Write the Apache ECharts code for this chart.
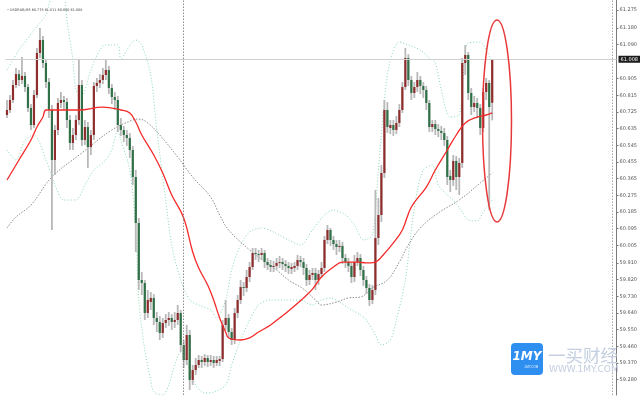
<!DOCTYPE html>
<html>
<head>
<meta charset="utf-8">
<script src="https://cdn.jsdelivr.net/npm/echarts@6/dist/echarts.min.js"></script>
<style>html,body{margin:0;padding:0;background:#fff}#c{width:640px;height:400px}</style>
</head>
<body>
<div id="c"></div>
<script>
const symbolTitle = "\u2022 USDRUB,M5 60.775 61.011 60.680 61.008";
const lastPrice = 61.008;
const yTicks = [61.275,61.180,61.090,60.905,60.815,60.725,60.635,60.545,60.455,60.365,60.275,60.185,60.095,60.005,59.910,59.820,59.730,59.640,59.550,59.460,59.370,59.280];
const slotCount = 204;
const categories = Array.from({length: slotCount}, (_, i) => String(i));

const opens = [60.709,60.736,60.790,60.871,60.930,60.898,60.920,60.860,60.747,60.655,60.817,61.044,61.114,60.990,60.887,60.736,60.466,60.628,60.774,60.790,60.779,60.682,60.558,60.601,60.682,60.871,60.574,60.644,60.536,60.601,60.866,60.882,60.898,60.925,60.952,60.855,60.806,60.790,60.655,60.628,60.601,60.585,60.520,60.374,60.126,59.818,59.802,59.640,59.699,59.721,59.613,59.591,59.532,59.586,59.602,59.613,59.591,59.602,59.640,59.467,59.386,59.521,59.278,59.332,59.359,59.386,59.375,59.397,59.375,59.386,59.370,59.381,59.391,59.575,59.613,59.537,59.494,59.640,59.710,59.780,59.775,59.834,59.888,59.964,59.958,59.953,59.964,59.915,59.899,59.888,59.894,59.910,59.915,59.904,59.894,59.877,59.883,59.894,59.926,59.915,59.883,59.818,59.845,59.856,59.818,59.850,59.883,60.034,60.088,60.034,60.012,59.996,60.002,59.937,59.915,59.894,59.834,59.915,59.937,59.872,59.818,59.775,59.710,59.764,60.045,60.169,60.396,60.736,60.639,60.655,60.628,60.666,60.736,60.860,61.017,60.898,60.828,60.860,60.898,60.866,60.844,60.774,60.644,60.660,60.633,60.623,60.612,60.574,60.380,60.358,60.461,60.374,60.450,60.990,61.033,60.828,60.752,60.774,60.747,60.639,60.833,60.882,60.775];
const closes = [60.736,60.790,60.871,60.930,60.898,60.920,60.860,60.747,60.655,60.817,61.044,61.114,60.990,60.887,60.736,60.466,60.628,60.774,60.790,60.779,60.682,60.558,60.601,60.682,60.871,60.574,60.644,60.536,60.601,60.866,60.882,60.898,60.925,60.952,60.855,60.806,60.790,60.655,60.628,60.601,60.585,60.520,60.374,60.126,59.818,59.802,59.640,59.710,59.721,59.613,59.591,59.532,59.586,59.602,59.613,59.591,59.602,59.640,59.467,59.386,59.521,59.278,59.332,59.359,59.386,59.375,59.397,59.375,59.386,59.370,59.386,59.391,59.575,59.613,59.537,59.494,59.640,59.710,59.780,59.775,59.834,59.888,59.964,59.958,59.953,59.964,59.915,59.899,59.888,59.894,59.910,59.915,59.904,59.894,59.883,59.888,59.894,59.926,59.915,59.883,59.818,59.845,59.856,59.818,59.850,59.883,60.034,60.088,60.034,60.012,59.996,60.002,59.937,59.915,59.894,59.834,59.915,59.937,59.872,59.818,59.775,59.710,59.764,60.045,60.169,60.396,60.736,60.644,60.655,60.628,60.666,60.736,60.860,61.017,60.898,60.828,60.860,60.898,60.866,60.844,60.774,60.644,60.660,60.633,60.623,60.612,60.574,60.374,60.358,60.461,60.374,60.450,60.990,61.033,60.828,60.752,60.774,60.747,60.639,60.833,60.882,60.752,61.008];
const lows = [60.693,60.720,60.774,60.855,60.866,60.876,60.833,60.725,60.628,60.639,60.801,61.017,60.963,60.855,60.693,60.088,60.385,60.601,60.747,60.736,60.639,60.520,60.520,60.574,60.655,60.542,60.547,60.423,60.493,60.574,60.833,60.855,60.876,60.898,60.822,60.768,60.736,60.617,60.596,60.563,60.542,60.477,60.331,59.969,59.764,59.737,59.602,59.613,59.656,59.575,59.537,59.494,59.505,59.559,59.570,59.548,59.559,59.575,59.429,59.343,59.359,59.224,59.251,59.305,59.343,59.343,59.354,59.348,59.354,59.343,59.354,59.354,59.375,59.548,59.505,59.467,59.472,59.613,59.688,59.732,59.753,59.807,59.872,59.926,59.915,59.926,59.883,59.872,59.861,59.861,59.872,59.883,59.872,59.861,59.850,59.850,59.861,59.872,59.888,59.845,59.786,59.791,59.818,59.764,59.791,59.829,59.861,60.012,60.002,59.980,59.953,59.969,59.904,59.883,59.861,59.802,59.807,59.894,59.840,59.786,59.742,59.678,59.688,59.737,60.007,60.131,60.369,60.612,60.606,60.596,60.606,60.644,60.720,60.844,60.866,60.790,60.801,60.833,60.822,60.801,60.736,60.617,60.617,60.601,60.590,60.574,60.542,60.331,60.293,60.326,60.304,60.277,60.423,60.925,60.790,60.709,60.725,60.693,60.601,60.617,60.790,60.196,60.680];
const highs = [60.790,60.817,60.898,60.963,60.952,61.022,60.941,60.876,60.768,60.844,61.071,61.179,61.136,61.006,60.909,60.763,60.655,60.801,60.833,60.812,60.801,60.709,60.639,60.709,61.006,60.898,60.682,60.671,60.628,60.887,60.909,60.930,60.963,61.006,60.974,60.876,60.833,60.812,60.693,60.650,60.628,60.612,60.542,60.412,60.153,59.861,59.818,59.764,59.753,59.742,59.645,59.624,59.613,59.634,59.645,59.634,59.645,59.683,59.656,59.494,59.575,59.548,59.359,59.397,59.413,59.408,59.418,59.413,59.413,59.408,59.408,59.408,59.602,59.710,59.634,59.559,59.667,59.737,59.818,59.807,59.872,59.915,59.991,59.991,59.980,59.991,59.980,59.937,59.926,59.921,59.937,59.948,59.937,59.926,59.915,59.910,59.915,59.953,59.948,59.937,59.904,59.872,59.883,59.883,59.872,59.915,60.056,60.115,60.099,60.056,60.034,60.034,60.023,59.958,59.937,59.915,59.953,59.969,59.958,59.894,59.840,59.796,59.791,60.304,60.261,60.439,60.790,60.779,60.682,60.682,60.704,60.768,60.887,61.071,61.038,60.920,60.887,60.941,60.920,60.887,60.866,60.790,60.682,60.682,60.660,60.650,60.639,60.596,60.412,60.493,60.488,60.477,61.017,61.087,61.049,60.855,60.812,60.801,60.768,60.855,60.909,60.898,61.011];

// moving averages / bands: [candle index, price]
const maRed = [[0,60.358],[4,60.466],[8,60.574],[10,60.644],[12,60.698],[13,60.736],[17,60.736],[24,60.736],[32,60.752],[38,60.736],[41,60.720],[43,60.671],[45,60.601],[49,60.493],[52,60.396],[55,60.277],[59,60.153],[62,59.969],[64,59.883],[67,59.791],[69,59.710],[71,59.613],[73,59.537],[74,59.505],[78,59.494],[81,59.505],[84,59.537],[88,59.575],[91,59.613],[94,59.651],[99,59.721],[102,59.769],[105,59.834],[109,59.888],[112,59.915],[117,59.915],[120,59.910],[123,59.915],[125,59.942],[129,60.018],[132,60.088],[135,60.212],[140,60.320],[143,60.412],[147,60.520],[150,60.601],[153,60.666],[157,60.698],[160,60.709],[162,60.720]];
const maGray = [[0,60.099],[3,60.158],[8,60.223],[15,60.374],[25,60.504],[35,60.628],[42,60.682],[44,60.687],[47,60.666],[51,60.601],[57,60.482],[62,60.374],[68,60.266],[71,60.169],[74,60.088],[81,59.980],[84,59.942],[90,59.872],[94,59.818],[99,59.769],[103,59.710],[105,59.683],[110,59.699],[114,59.721],[118,59.726],[122,59.775],[127,59.818],[131,59.915],[134,60.007],[138,60.099],[144,60.180],[151,60.250],[158,60.342],[162,60.396]];
const bandUpper = [[0,60.952],[4,61.060],[9,61.168],[13,61.249],[14,61.303],[16,61.411],[19,61.357],[20,61.222],[22,61.006],[23,60.844],[25,60.817],[28,60.952],[31,61.060],[33,61.087],[37,61.087],[38,61.006],[40,61.060],[43,61.114],[45,61.087],[48,60.925],[50,60.628],[53,60.250],[55,60.007],[58,59.818],[61,59.710],[64,59.683],[68,59.656],[70,59.613],[73,59.710],[75,59.872],[78,60.007],[81,60.077],[85,60.099],[89,60.077],[94,60.034],[98,60.007],[102,60.088],[106,60.169],[109,60.196],[113,60.169],[116,60.115],[119,60.034],[122,60.061],[124,60.412],[126,60.790],[128,61.006],[131,61.103],[134,61.087],[138,61.060],[141,61.017],[143,60.990],[145,60.844],[148,60.698],[151,60.709],[153,61.060],[154,61.098],[158,61.103],[160,61.060],[162,60.995]];
const bandLower = [[0,60.520],[3,60.466],[6,60.574],[9,60.601],[13,60.466],[16,60.331],[19,60.250],[23,60.250],[26,60.331],[29,60.412],[33,60.466],[35,60.520],[37,60.628],[38,60.574],[41,60.412],[43,60.088],[44,59.710],[46,59.440],[48,59.278],[49,59.213],[52,59.197],[54,59.251],[56,59.359],[58,59.429],[60,59.375],[63,59.251],[66,59.208],[69,59.213],[73,59.251],[75,59.359],[78,59.494],[81,59.602],[84,59.683],[88,59.710],[93,59.710],[98,59.710],[102,59.683],[105,59.710],[108,59.721],[111,59.699],[114,59.667],[118,59.629],[120,59.602],[123,59.521],[125,59.467],[128,59.494],[130,59.602],[133,59.818],[135,60.088],[137,60.304],[139,60.412],[142,60.439],[144,60.331],[147,60.277],[149,60.250],[152,60.185],[154,60.142],[157,60.137],[159,60.185],[162,60.250]];
const separatorSlots = ['59', '202'];

const candleData = opens.map((o, i) => [i, o, closes[i], lows[i], highs[i]]);

const chart = echarts.init(document.getElementById('c'), null, {renderer: 'canvas'});
const dotted = (color, w, dash) => ({color: color, width: w, type: dash});

chart.setOption({
  animation: false,
  backgroundColor: '#ffffff',
  grid: {left: 5.5, right: 22.5, top: 0, bottom: 5},
  xAxis: {
    type: 'category', data: categories, boundaryGap: true,
    axisLine: {show: false}, axisTick: {show: false}, axisLabel: {show: false}, splitLine: {show: false}
  },
  yAxis: {
    type: 'value', position: 'right', min: 59.197, max: 61.33, scale: true,
    splitLine: {show: false},
    axisLine: {show: true, lineStyle: {color: '#7a7a7a', width: 1}},
    axisTick: {show: true, length: 2, customValues: yTicks, lineStyle: {color: '#7a7a7a'}},
    axisLabel: {customValues: yTicks, formatter: v => v.toFixed(3), fontSize: 5, color: '#555', margin: 3, fontFamily: 'DejaVu Sans'}
  },
  series: [
    {type: 'line', data: bandUpper, smooth: 0.3, symbol: 'none', lineStyle: dotted('#86d9ae', 1, [1, 2]), z: 1},
    {type: 'line', data: bandLower, smooth: 0.3, symbol: 'none', lineStyle: dotted('#86d9ae', 1, [1, 2]), z: 1},
    {type: 'line', data: maGray, smooth: 0.4, symbol: 'none', lineStyle: dotted('#6f6f6f', 0.8, [1.5, 1.5]), z: 2},
    {
      type: 'custom', data: candleData, z: 3,
      encode: {x: 0, y: [1, 2, 3, 4]},
      renderItem: function (params, api) {
        const i = api.value(0);
        const o = api.value(1), c = api.value(2), l = api.value(3), h = api.value(4);
        const pO = api.coord([i, o]), pC = api.coord([i, c]);
        const pL = api.coord([i, l]), pH = api.coord([i, h]);
        const x = pO[0];
        const top = Math.min(pO[1], pC[1]);
        const bot = Math.max(pO[1], pC[1]);
        const up = c >= o;
        return {
          type: 'group',
          children: [
            {type: 'line', shape: {x1: x, y1: pH[1], x2: x, y2: pL[1]}, style: {stroke: '#b8b8b8', lineWidth: 1.8}},
            {type: 'rect', shape: {x: x - 1.1, y: top, width: 2.2, height: Math.max(bot - top, 1)}, style: {fill: up ? '#8f2d2d' : '#2f7047', stroke: null}}
          ]
        };
      }
    },
    {
      type: 'line', data: maRed, smooth: 0.4, symbol: 'none', z: 4,
      lineStyle: {color: '#f52a2a', width: 1.3},
      markLine: {
        silent: true, symbol: 'none', animation: false,
        data: [
          {yAxis: lastPrice, lineStyle: {color: '#cfcfcf', width: 1, type: 'solid'},
           label: {show: true, position: 'end', formatter: () => lastPrice.toFixed(3), backgroundColor: '#1b1b1b', color: '#fff', fontSize: 5, padding: [1, 2], distance: 2, fontFamily: 'DejaVu Sans'}},
          {xAxis: separatorSlots[0], lineStyle: {color: '#6e6e6e', width: 0.8, type: [1.5, 1.5]}, label: {show: false}},
          {xAxis: separatorSlots[1], lineStyle: {color: '#8e8e8e', width: 0.8, type: [1.5, 1.5]}, label: {show: false}}
        ]
      }
    }
  ],
  graphic: [
    {type: 'text', left: 7, top: 9, style: {text: symbolTitle, fontSize: 3.4, fill: '#444', fontFamily: 'DejaVu Sans'}, z: 10},
    {type: 'ellipse', shape: {cx: 497, cy: 121, rx: 14.5, ry: 101}, style: {fill: null, stroke: '#e8393a', lineWidth: 1.5}, z: 10},
    {type: 'rect', shape: {x: 511, y: 343, width: 32, height: 32, r: 4}, style: {fill: '#2f8ff0'}, z: 10},
    {type: 'text', x: 527, y: 357, style: {text: '1MY', fontSize: 12, fontWeight: 'bold', fontStyle: 'italic', fill: '#fff', align: 'center', verticalAlign: 'middle', fontFamily: 'DejaVu Sans'}, z: 11},
    {type: 'text', x: 531, y: 367, style: {text: '.1MY.COM', fontSize: 3, fill: '#e6f0ff', align: 'center', verticalAlign: 'middle'}, z: 11},
    {type: 'text', x: 548, y: 355, style: {text: '一买财经', fontSize: 17.5, fill: '#c3cee0', verticalAlign: 'middle', fontFamily: 'Noto Sans CJK SC'}, z: 10},
    {type: 'text', x: 549, y: 370, style: {text: 'WWW.1MY.COM', fontSize: 9, fill: '#c3cee0', verticalAlign: 'middle', fontFamily: 'DejaVu Sans'}, z: 10}
  ]
});
</script>
</body>
</html>
